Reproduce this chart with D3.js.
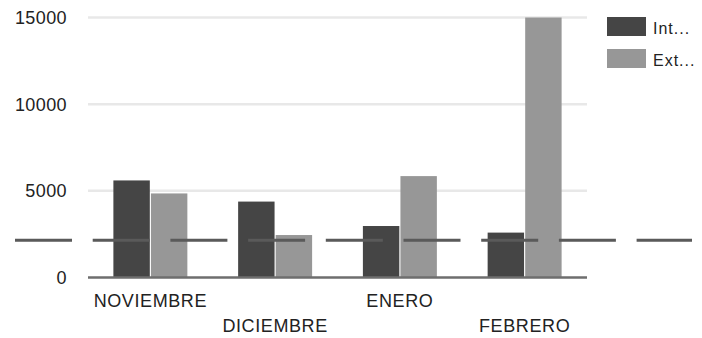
<!DOCTYPE html>
<html>
<head>
<meta charset="utf-8">
<script src="https://cdn.jsdelivr.net/npm/d3@7"></script>
<style>
  html, body { margin: 0; padding: 0; background: #fff; }
  svg { display: block; font-family: "Liberation Sans", Arial, sans-serif; }
</style>
</head>
<body>
<svg id="chart" width="702" height="338"></svg>
<script>
// Monthly totals per series
const categories = ["NOVIEMBRE", "DICIEMBRE", "ENERO", "FEBRERO"];
const seriesNames = ["Int...", "Ext..."];
const intValues = [5600, 4380, 2970, 2590];
const extValues = [4850, 2450, 5850, 15000];
const seriesColors = ["#454545", "#979797"];
const yTicks = [0, 5000, 10000, 15000];
const referenceValue = 2150;

const svg = d3.select("#chart");

const x0 = d3.scaleBand()
  .domain(categories)
  .range([88, 587])
  .paddingInner(0.407)
  .paddingOuter(0.2035);

const x1 = d3.scaleBand()
  .domain(seriesNames)
  .range([0, x0.bandwidth()])
  .paddingInner(0.03);

const y = d3.scaleLinear()
  .domain([0, 15000])
  .range([277.5, 17.5])
  .clamp(true);

const color = d3.scaleOrdinal().domain(seriesNames).range(seriesColors);

// Horizontal gridlines
svg.append("g")
  .selectAll("line")
  .data(yTicks.filter(d => d !== 0))
  .join("line")
  .attr("x1", 88).attr("x2", 587)
  .attr("y1", d => y(d)).attr("y2", d => y(d))
  .attr("stroke", "#e8e8e8")
  .attr("stroke-width", 2.5);

// Y tick labels
svg.append("g")
  .selectAll("text")
  .data(yTicks)
  .join("text")
  .attr("x", 67)
  .attr("y", d => y(d) + 6.5)
  .attr("text-anchor", "end")
  .attr("font-size", 18)
  .attr("letter-spacing", 0.4)
  .attr("fill", "#222")
  .text(d => d);

// Bars
const rows = categories.map((c, i) => ({ category: c, values: [intValues[i], extValues[i]] }));
const groups = svg.append("g")
  .selectAll("g")
  .data(rows)
  .join("g")
  .attr("transform", d => `translate(${x0(d.category)},0)`);

groups.selectAll("rect")
  .data(d => d.values.map((v, j) => ({ key: seriesNames[j], value: v })))
  .join("rect")
  .attr("x", d => x1(d.key))
  .attr("width", x1.bandwidth())
  .attr("y", d => y(d.value))
  .attr("height", d => y(0) - y(d.value))
  .attr("fill", d => color(d.key));

// Baseline at zero
svg.append("line")
  .attr("x1", 88).attr("x2", 587)
  .attr("y1", y(0)).attr("y2", y(0))
  .attr("stroke", "#6e6e6e")
  .attr("stroke-width", 2.5);

// Dashed reference line
svg.append("line")
  .attr("x1", 15).attr("x2", 692)
  .attr("y1", y(referenceValue)).attr("y2", y(referenceValue))
  .attr("stroke", "#5a5a5a")
  .attr("stroke-width", 3)
  .attr("stroke-dasharray", "57 20.7");

// Category labels, staggered on two rows
svg.append("g")
  .selectAll("text")
  .data(categories)
  .join("text")
  .attr("x", d => x0(d) + x0.bandwidth() / 2)
  .attr("y", (d, i) => i % 2 === 0 ? 306.5 : 331.5)
  .attr("text-anchor", "middle")
  .attr("font-size", 18)
  .attr("letter-spacing", 0.6)
  .attr("fill", "#222")
  .text(d => d);

// Legend
const legend = svg.append("g")
  .selectAll("g")
  .data(seriesNames)
  .join("g")
  .attr("transform", (d, i) => `translate(607,${17 + i * 32})`);

legend.append("rect")
  .attr("width", 39)
  .attr("height", 19)
  .attr("fill", d => color(d));

legend.append("text")
  .attr("x", 46)
  .attr("y", 17)
  .attr("font-size", 16)
  .attr("letter-spacing", 1)
  .attr("fill", "#222")
  .text(d => d);
</script>
</body>
</html>
